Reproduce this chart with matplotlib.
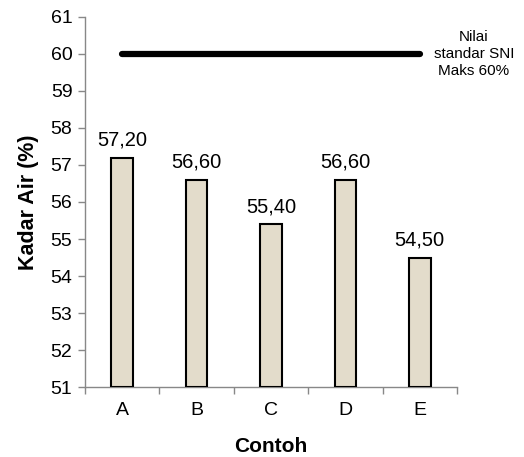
import matplotlib
matplotlib.use("Agg")
import matplotlib.pyplot as plt
import numpy as np

categories = ["A", "B", "C", "D", "E"]
values = [57.20, 56.60, 55.40, 56.60, 54.50]
value_labels = ["57,20", "56,60", "55,40", "56,60", "54,50"]
standard = 60
standard_label = "Nilai\nstandar SNI\nMaks 60%"

plt.rcParams['font.family'] = ['Liberation Sans', 'DejaVu Sans']

fig = plt.figure(figsize=(5.24, 4.57), dpi=100)
ax = fig.add_axes([0.162, 0.153, 0.710, 0.810])

x = np.arange(len(categories))
ax.bar(x, [v - 51 for v in values], bottom=51, width=0.29,
       facecolor='#e3dccb', edgecolor='black', linewidth=1.5, zorder=3)
for xi, v, lab in zip(x, values, value_labels):
    ax.text(xi, v + 0.22, lab, ha='center', va='bottom', fontsize=14.5)

ax.plot([x[0], x[-1]], [standard, standard], color='black', linewidth=4.5,
        solid_capstyle='round', zorder=4)
ax.text(4.73, standard, standard_label, ha='center', va='center', fontsize=11,
        linespacing=1.25, clip_on=False)

ax.set_xlim(-0.5, 4.5)
ax.set_ylim(51, 61)
ax.set_yticks(range(51, 62))
ax.set_xticks(np.arange(-0.5, 5, 1.0))
ax.set_xticklabels([])
ax.set_xticks(x, minor=True)
ax.set_xticklabels(categories, minor=True)
ax.tick_params(axis='x', which='minor', length=0, labelsize=14, pad=11)
ax.tick_params(axis='x', which='major', length=5, color='#888888', width=1)
ax.tick_params(axis='y', length=5, color='#888888', width=1, labelsize=14, pad=4)

for s in ['top', 'right']:
    ax.spines[s].set_visible(False)
for s in ['left', 'bottom']:
    ax.spines[s].set_color('#888888')
    ax.spines[s].set_linewidth(1)

ax.set_xlabel("Contoh", fontsize=15, fontweight='bold', labelpad=13)
ax.set_ylabel("Kadar Air (%)", fontsize=15.5, fontweight='bold', labelpad=8)

fig.savefig("out.png", dpi=100)
